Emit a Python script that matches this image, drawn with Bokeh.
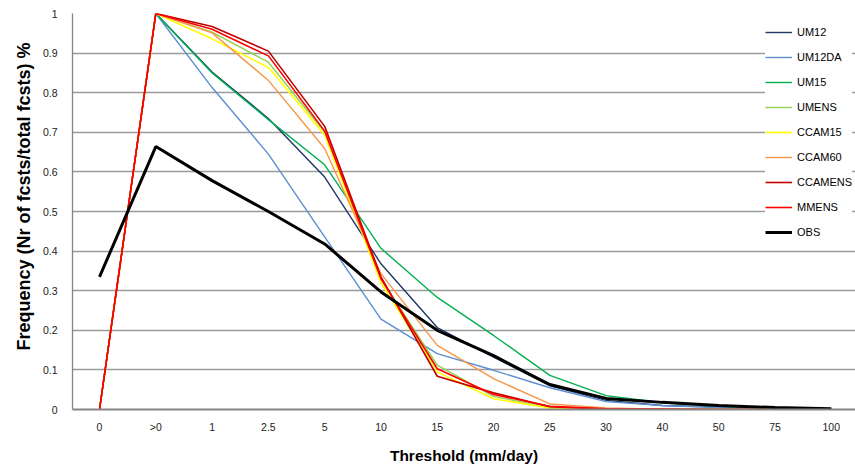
from bokeh.plotting import figure
from bokeh.models import Range1d, FixedTicker, Legend, LegendItem, Title
from bokeh.embed import file_html
from bokeh.resources import INLINE

categories = ["0", ">0", "1", "2.5", "5", "10", "15", "20", "25", "30", "40", "50", "75", "100"]
y_ticks = [0, 0.1, 0.2, 0.3, 0.4, 0.5, 0.6, 0.7, 0.8, 0.9, 1.0]
y_tick_labels = ["0", "0.1", "0.2", "0.3", "0.4", "0.5", "0.6", "0.7", "0.8", "0.9", "1"]

um12 = [0, 1.0, 0.852, 0.735, 0.587, 0.368, 0.207, 0.132, 0.060, 0.023, 0.010, 0.006, 0.003, 0.001]
um12da = [0, 1.0, 0.813, 0.645, 0.436, 0.228, 0.141, 0.099, 0.055, 0.020, 0.010, 0.005, 0.002, 0.001]
um15 = [0, 1.0, 0.850, 0.732, 0.618, 0.407, 0.283, 0.187, 0.086, 0.035, 0.017, 0.008, 0.004, 0.001]
umens = [0, 1.0, 0.953, 0.877, 0.700, 0.330, 0.112, 0.033, 0.006, 0.002, 0.001, 0.0, 0.0, 0.0]
ccam15 = [0, 1.0, 0.936, 0.864, 0.693, 0.320, 0.095, 0.027, 0.004, 0.001, 0.0, 0.0, 0.0, 0.0]
ccam60 = [0, 1.0, 0.951, 0.831, 0.659, 0.343, 0.162, 0.078, 0.014, 0.004, 0.001, 0.0, 0.0, 0.0]
ccamens = [0, 1.0, 0.967, 0.905, 0.715, 0.335, 0.084, 0.042, 0.007, 0.001, 0.0, 0.0, 0.0, 0.0]
mmens = [0, 1.0, 0.960, 0.893, 0.703, 0.330, 0.103, 0.038, 0.008, 0.002, 0.001, 0.0, 0.0, 0.0]
obs = [0.335, 0.664, 0.578, 0.500, 0.418, 0.297, 0.200, 0.136, 0.063, 0.028, 0.018, 0.010, 0.005, 0.002]

series_names = ["UM12", "UM12DA", "UM15", "UMENS", "CCAM15", "CCAM60", "CCAMENS", "MMENS", "OBS"]
series_values = [um12, um12da, um15, umens, ccam15, ccam60, ccamens, mmens, obs]
series_colors = ["#1F3864", "#5B8FD0", "#00B050", "#92D050", "#FFFF00", "#F79646", "#C00000", "#FF0000", "#000000"]
series_widths = [1.4, 1.4, 1.4, 1.4, 1.6, 1.4, 1.6, 1.6, 3.0]

FONT = "Liberation Sans"

p = figure(width=855, height=470, output_backend="svg", toolbar_location=None,
           x_range=Range1d(-0.48, 13.43), y_range=Range1d(0, 1),
           min_border_left=72, min_border_right=0, min_border_top=13, min_border_bottom=61)
p.outline_line_color = None
p.background_fill_color = "white"
p.border_fill_color = "white"

x = list(range(len(categories)))
items = []
for name, vals, col, w in zip(series_names, series_values, series_colors, series_widths):
    r = p.line(x, vals, line_color=col, line_width=w)
    items.append(LegendItem(label=name, renderers=[r]))

# axes
p.xaxis.ticker = FixedTicker(ticks=x)
p.xaxis.major_label_overrides = {i: c for i, c in enumerate(categories)}
p.yaxis.ticker = FixedTicker(ticks=y_ticks)
p.yaxis.major_label_overrides = {t: l for t, l in zip(y_ticks, y_tick_labels)}
for ax in (p.xaxis, p.yaxis):
    ax.major_tick_line_color = None
    ax.minor_tick_line_color = None
    ax.major_label_text_font = FONT
    ax.major_label_text_font_size = "10.5px"
    ax.major_label_text_color = "#222222"
    ax.axis_line_color = "#858585"
p.xaxis.axis_line_width = 2
p.yaxis.axis_line_width = 1.3
p.xaxis.major_label_standoff = 5
p.yaxis.major_label_standoff = 9

p.xaxis.axis_label = "Threshold (mm/day)"
p.xaxis.axis_label_text_font = FONT
p.xaxis.axis_label_text_font_size = "15.5px"
p.xaxis.axis_label_text_font_style = "bold"
p.xaxis.axis_label_text_color = "#000000"
p.xaxis.axis_label_standoff = 11

ytitle = Title(text="Frequency (Nr of fcsts/total fcsts) %", align="right", offset=29,
               vertical_align="top",
               text_font=FONT, text_font_size="18px", text_font_style="bold",
               text_color="#000000", standoff=8)
p.add_layout(ytitle, "left")

p.xgrid.grid_line_color = None
p.ygrid.grid_line_color = "#9A9A9A"
p.ygrid.grid_line_width = 1.4

legend = Legend(items=items, location=(693, 170))
legend.background_fill_color = "white"
legend.background_fill_alpha = 1.0
legend.border_line_color = None
legend.label_text_font = FONT
legend.label_text_font_size = "11px"
legend.label_text_color = "#000000"
legend.glyph_width = 27
legend.glyph_height = 14
legend.label_height = 14
legend.label_standoff = 5
legend.spacing = 11
legend.padding = 6
legend.margin = 0
p.add_layout(legend)

open("out.html", "w").write(file_html(p, INLINE))
